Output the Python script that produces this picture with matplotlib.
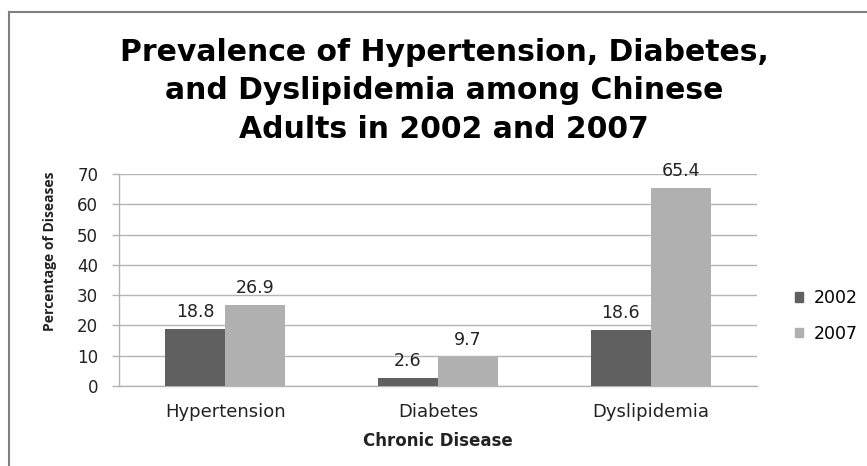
import matplotlib
matplotlib.use("Agg")
import matplotlib.pyplot as plt
from matplotlib.lines import Line2D
import matplotlib.patches as mpatches
import numpy as np

plt.rcParams["font.family"] = "DejaVu Sans"

# ── data ──────────────────────────────────────────────────────────────────────
categories = ["Hypertension", "Diabetes", "Dyslipidemia"]
years = ["2002", "2007"]
values_2002 = [18.8, 2.6, 18.6]
values_2007 = [26.9, 9.7, 65.4]
y_ticks = [0, 10, 20, 30, 40, 50, 60, 70]

COLORS = {"2002": "#606060", "2007": "#b0b0b0"}
GRID = "#b4b4b4"
TXT = "#222222"

fig = plt.figure(figsize=(8.67, 4.66), dpi=100)
ax = fig.add_axes([0.1373, 0.1717, 0.7357, 0.4549])

x = np.arange(len(categories))
w = 0.282
ax.bar(x - w / 2, values_2002, w, color=COLORS["2002"], zorder=3)
ax.bar(x + w / 2, values_2007, w, color=COLORS["2007"], zorder=3)

# value labels above each bar
for xs, vals in [(x - w / 2, values_2002), (x + w / 2, values_2007)]:
    for xi, v in zip(xs, vals):
        ax.annotate(f"{v}", (xi, v), xytext=(0, 8.5), textcoords="offset points",
                    ha="center", va="baseline", fontsize=12.5, color=TXT)

ax.set_xlim(-0.5, 2.5)
ax.set_ylim(0, 70)
ax.set_yticks(y_ticks)
ax.yaxis.grid(True, color=GRID, lw=1.0, zorder=0)
ax.set_axisbelow(True)
ax.tick_params(axis="y", length=5, width=1.0, color=GRID, pad=10,
               labelsize=12, labelcolor=TXT)
ax.set_xticks(x)
ax.set_xticklabels(categories)
ax.tick_params(axis="x", length=0, pad=12, labelsize=13, labelcolor=TXT)
for side in ["top", "right"]:
    ax.spines[side].set_visible(False)
for side in ["left", "bottom"]:
    ax.spines[side].set_color(GRID)
    ax.spines[side].set_linewidth(1.0)

ax.set_xlabel("Chronic Disease", fontsize=12, fontweight="bold",
              color=TXT, labelpad=8)
ax.set_ylabel("Percentage of Diseases", fontsize=10, fontweight="bold",
              color=TXT, family="Open Sans")
ax.yaxis.set_label_coords(-0.097, 0.637)

fig.text(0.512, 0.805,
         "Prevalence of Hypertension, Diabetes,\nand Dyslipidemia among Chinese\nAdults in 2002 and 2007",
         ha="center", va="center", fontsize=21.5, fontweight="bold",
         color="#000000", linespacing=1.42)

handles = [mpatches.Patch(color=COLORS[y], label=y) for y in years]
fig.legend(handles=handles, loc="center left", bbox_to_anchor=(0.899, 0.322),
           frameon=False, fontsize=12.5, handlelength=0.45, handleheight=0.45,
           handletextpad=0.6, labelspacing=1.0)

# outer chart border
fig.add_artist(Line2D([0.0104, 0.0104], [0.0, 0.974], transform=fig.transFigure,
                      color="#808080", lw=1.5))
fig.add_artist(Line2D([0.0104, 1.0], [0.974, 0.974], transform=fig.transFigure,
                      color="#808080", lw=1.5))

fig.savefig("out.png", dpi=100)
